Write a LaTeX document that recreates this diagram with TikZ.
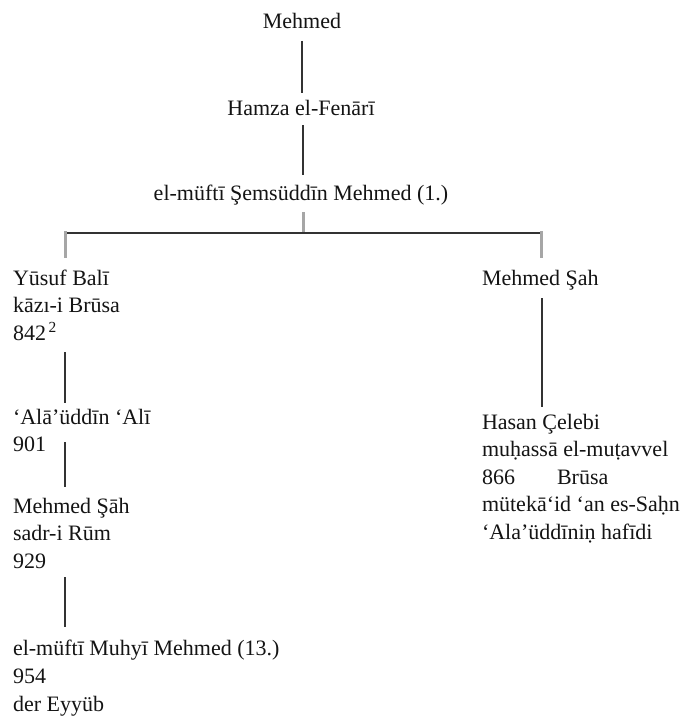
\documentclass[tikz,border=0pt]{standalone}
\usepackage{fontspec}
\setmainfont{Liberation Serif}
\begin{document}
\begin{tikzpicture}[x=1pt,y=-1pt,
  txt/.style={inner sep=0pt,outer sep=0pt,text=black!92,
    font=\fontsize{22}{27.5}\selectfont},
  lefttext/.style={txt,anchor=base west},
  midtext/.style={txt,anchor=base},
  link/.style={draw=black!80,line width=1.6pt},
  faint/.style={draw=black!35,line width=3pt}]
\useasboundingbox[fill=white] (0,0) rectangle (689,717);

% top of the line
\node[midtext] (mehmed) at (302,29) {Mehmed};
\node[midtext] (hamza) at (301,115) {Hamza el-Fenārī};
\node[midtext] (semsuddin) at (301,200) {el-müftī Şemsüddīn Mehmed (1.)};

% left branch
\node[lefttext] (yusuf) at (13,285)
  {\begin{tabular}[t]{@{}l@{}}Yūsuf Balī\\kāzı-i Brūsa\\842\textsuperscript{\,2}\end{tabular}};
\node[lefttext] (alaeddin) at (13,424)
  {\begin{tabular}[t]{@{}l@{}}‘Alā’üddīn ‘Alī\\901\end{tabular}};
\node[lefttext] (mehmedsah) at (13,513)
  {\begin{tabular}[t]{@{}l@{}}Mehmed Şāh\\sadr-i Rūm\\929\end{tabular}};
\node[lefttext] (muhyi) at (13,655)
  {\begin{tabular}[t]{@{}l@{}}el-müftī Muhyī Mehmed (13.)\\[0.5pt]954\\[0.5pt]der Eyyüb\end{tabular}};

% right branch
\node[lefttext] (mehmedsahr) at (482,285) {Mehmed Şah};
\node[lefttext] (hasan) at (482,429)
  {\begin{tabular}[t]{@{}l@{}}Hasan Çelebi\\muḥassā el-muṭavvel\\\makebox[75pt][l]{866}Brūsa\\mütekā‘id ‘an es-Saḥn\\‘Ala’üddīniṇ hafīdi\end{tabular}};

% connector ends
\coordinate (m1) at (302,41);   \coordinate (h1) at (302,93);
\coordinate (h2) at (303,125);  \coordinate (s1) at (303,175);
\coordinate (s2) at (303,212);  \coordinate (bar) at (303,233);
\coordinate (barL) at (64,233); \coordinate (barR) at (541,233);
\coordinate (dropL) at (65,258); \coordinate (dropR) at (541,258);
\coordinate (y1) at (65,352);   \coordinate (a1) at (65,403);
\coordinate (a2) at (65,442);   \coordinate (ms1) at (65,487);
\coordinate (ms2) at (65,577);  \coordinate (mu1) at (65,627);
\coordinate (r1) at (542,298);  \coordinate (hs1) at (542,407);

\draw[link] (m1) -- (h1);
\draw[link] (h2) -- (s1);
\draw[faint] (s2) -- (bar);
\draw[link] (barL) -- (barR);
\draw[faint] ([yshift=2pt]barL -| dropL) -- (dropL);
\draw[faint] ([yshift=2pt]barR) -- (dropR);
\draw[link] (y1) -- (a1);
\draw[link] (a2) -- (ms1);
\draw[link] (ms2) -- (mu1);
\draw[link] (r1) -- (hs1);
\end{tikzpicture}
\end{document}
